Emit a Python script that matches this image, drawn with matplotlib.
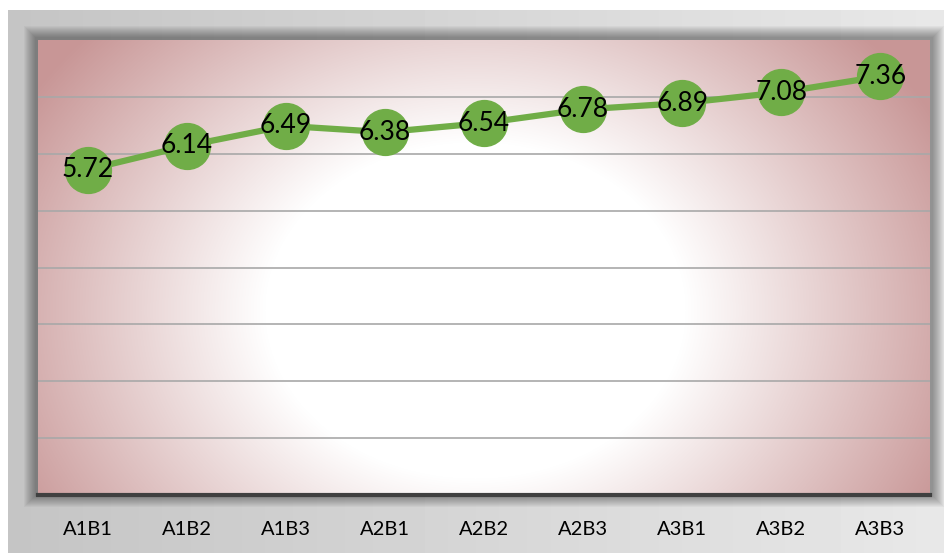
import numpy as np
import matplotlib
matplotlib.use('Agg')
import matplotlib.pyplot as plt
from matplotlib.patches import Rectangle

# data
categories = ['A1B1', 'A1B2', 'A1B3', 'A2B1', 'A2B2', 'A2B3', 'A3B1', 'A3B2', 'A3B3']
values = [5.72, 6.14, 6.49, 6.38, 6.54, 6.78, 6.89, 7.08, 7.36]

W, H = 944, 553
fig = plt.figure(figsize=(W / 100, H / 100), dpi=100)

# background: light gray gradient frame, white margin at left/top
bg = fig.add_axes([0, 0, 1, 1])
bg.set_xlim(0, W)
bg.set_ylim(H, 0)
bg.axis('off')
xx = np.linspace(0, 1, 200)
grad = np.tile(0.77 + 0.14 * xx, (50, 1))
bg.imshow(grad, cmap='gray', vmin=0, vmax=1, extent=[8, W, H, 10], aspect='auto', zorder=0)

# plot area in pixels
x0, x1, y0, y1 = 38, 930, 40, 495

# soft shadow around the plot area
for i in range(12):
    pad = 12 - i
    bg.add_patch(Rectangle((x0 - pad - 2, y0 - pad - 2), (x1 - x0) + 2 * pad + 4, (y1 - y0) + 2 * pad + 2,
                           facecolor='black', edgecolor='none', alpha=0.035, zorder=1))

ax = fig.add_axes([x0 / W, 1 - y1 / H, (x1 - x0) / W, (y1 - y0) / H])

# radial gradient fill for the plot area (white centre, rosy edges)
nx, ny = x1 - x0, y1 - y0
gx, gy = np.meshgrid(np.arange(nx) + x0, np.arange(ny) + y0)
r = np.sqrt((gx - 475) ** 2 + ((gy - 310) / 0.8) ** 2)
t = np.clip((r - 210) / 310, 0, 1)
edge = np.array([200, 150, 150]) / 255
img = 1 - t[..., None] * (1 - edge)
ax.imshow(img, extent=[-0.5, len(categories) - 0.5, 0, 8], aspect='auto', zorder=0, origin='upper')

ax.set_xlim(-0.5, len(categories) - 0.5)
ax.set_ylim(0, 8)
ax.set_yticks(range(1, 8))
ax.yaxis.grid(True, color='#a8a8a8', linewidth=1.2)
ax.set_axisbelow(True)
for s in ['top', 'left', 'right']:
    ax.spines[s].set_visible(False)
ax.spines['bottom'].set_color('#404040')
ax.spines['bottom'].set_linewidth(3)
ax.tick_params(left=False, labelleft=False, bottom=False)
ax.set_xticks(range(len(categories)))
ax.set_xticklabels(categories, fontsize=14.5, family=['Lato', 'DejaVu Sans'], color='black')
ax.tick_params(axis='x', pad=15)

xs = np.arange(len(categories))
ax.plot(xs, values, color='#70ad47', linewidth=4.5, marker='o', markersize=33,
        markerfacecolor='#70ad47', markeredgecolor='#70ad47', zorder=3, clip_on=False)
for x, v in zip(xs, values):
    ax.text(x, v, f'{v:.2f}', ha='center', va='center', fontsize=19,
            family=['Lato', 'DejaVu Sans'], color='black', zorder=4)

fig.savefig('out.png', dpi=100)
